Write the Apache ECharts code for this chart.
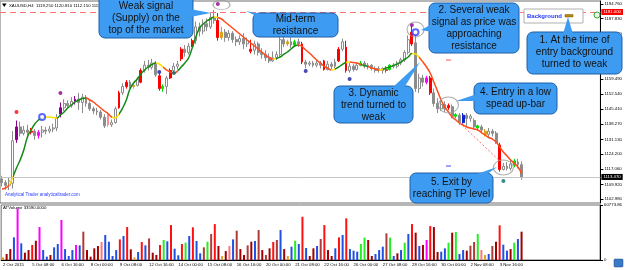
<!DOCTYPE html>
<html>
<head>
<meta charset="utf-8">
<script src="https://cdn.jsdelivr.net/npm/echarts@6/dist/echarts.min.js"></script>
<style>
  html, body { margin: 0; padding: 0; background: #fff; }
  #main { width: 625px; height: 270px; }
</style>
</head>
<body>
<div id="main"></div>
<script>
// XAUUSD H4, 2 Oct 2015 - 4 Nov 2015
const tickLabels = ['2 Oct 2015', '5 Oct 08:00', '6 Oct 16:00', '8 Oct 00:00', '9 Oct 08:00', '12 Oct 16:00',
  '14 Oct 00:00', '15 Oct 08:00', '16 Oct 16:00', '20 Oct 00:00', '21 Oct 08:00', '22 Oct 16:00',
  '26 Oct 00:00', '27 Oct 08:00', '28 Oct 16:00', '30 Oct 00:00', '2 Nov 08:00', '3 Nov 16:00'];

// [open, close, low, high]
const ohlc = [
  [1112.5,1110.8,1109.0,1114.0],[1110.8,1109.5,1107.5,1112.0],[1109.5,1111.5,1107.3,1113.0],[1110.5,1130.5,1108.0,1135.0],
  [1131.0,1137.0,1129.5,1140.0],[1137.0,1134.0,1132.5,1139.5],[1134.0,1135.5,1133.0,1137.5],[1135.5,1134.5,1133.0,1138.0],
  [1134.5,1135.0,1133.5,1136.5],[1135.0,1133.0,1131.0,1136.0],[1133.0,1134.5,1131.5,1135.5],[1134.5,1135.5,1132.0,1137.5],
  [1135.5,1135.0,1133.5,1137.0],[1135.0,1136.0,1134.0,1137.5],[1136.0,1136.5,1134.5,1138.5],[1136.5,1141.0,1135.0,1143.0],
  [1143.0,1146.0,1141.5,1148.5],[1146.0,1148.0,1144.5,1150.0],[1148.0,1147.0,1145.5,1149.5],[1147.0,1149.0,1146.0,1151.0],
  [1149.0,1150.0,1147.5,1151.5],[1150.0,1148.5,1145.0,1153.0],[1148.5,1151.0,1143.5,1152.5],[1151.0,1148.0,1146.5,1152.0],
  [1148.0,1145.5,1144.5,1149.0],[1145.5,1144.5,1143.0,1146.5],[1144.5,1144.0,1142.5,1146.0],[1144.0,1141.5,1140.5,1145.0],
  [1141.5,1137.5,1136.5,1143.0],[1143.0,1138.0,1137.0,1144.0],[1138.0,1139.0,1137.0,1140.5],[1139.0,1145.5,1138.5,1146.5],
  [1146.0,1153.0,1145.5,1154.0],[1153.0,1156.0,1152.0,1157.5],[1156.0,1158.0,1155.0,1159.0],[1158.0,1156.0,1155.0,1159.0],
  [1156.0,1156.5,1155.0,1157.5],[1156.5,1159.5,1156.0,1160.5],[1158.0,1163.5,1157.5,1164.5],[1163.5,1166.0,1162.5,1168.0],
  [1166.0,1165.0,1163.5,1168.5],[1165.0,1167.0,1164.0,1169.0],[1167.0,1161.5,1160.5,1168.0],[1161.0,1155.0,1154.0,1162.0],
  [1155.0,1156.0,1153.5,1157.0],[1156.0,1160.0,1152.5,1161.0],[1160.0,1163.5,1159.5,1164.5],[1163.5,1165.5,1162.5,1167.0],
  [1165.5,1166.5,1164.0,1168.0],[1169.0,1173.5,1168.0,1174.5],[1173.5,1172.0,1170.0,1175.5],[1172.0,1175.0,1171.0,1176.5],
  [1175.0,1177.5,1174.5,1178.5],[1177.5,1184.0,1176.0,1186.5],[1184.0,1182.0,1179.5,1186.0],[1182.0,1185.5,1180.5,1187.5],
  [1185.5,1184.0,1182.0,1188.0],[1184.0,1188.5,1183.0,1190.5],[1188.5,1187.0,1185.5,1192.0],[1187.0,1179.0,1177.5,1190.5],
  [1179.0,1181.5,1178.0,1184.0],[1181.5,1179.0,1177.0,1183.0],[1179.0,1181.0,1177.5,1182.5],[1181.0,1178.0,1176.5,1182.0],
  [1178.0,1177.0,1175.0,1179.5],[1177.0,1178.5,1175.5,1180.0],[1178.5,1176.0,1173.5,1181.0],[1176.0,1177.5,1174.5,1179.0],
  [1173.5,1172.5,1171.5,1178.0],[1173.0,1176.0,1171.0,1177.5],[1176.0,1172.0,1170.5,1177.0],[1172.0,1171.0,1169.0,1174.0],
  [1171.0,1169.5,1168.0,1173.0],[1169.5,1168.0,1167.0,1171.5],[1168.0,1169.5,1167.5,1172.5],[1169.5,1171.0,1168.5,1172.5],
  [1171.0,1178.0,1170.0,1180.0],[1178.0,1176.0,1174.5,1179.5],[1176.0,1177.0,1175.0,1178.0],[1177.0,1175.5,1174.0,1179.0],
  [1175.5,1177.0,1174.5,1178.0],[1177.0,1176.0,1174.5,1178.5],[1176.0,1167.5,1166.5,1177.0],[1167.5,1166.5,1164.5,1168.5],
  [1166.5,1167.0,1165.5,1168.0],[1167.0,1166.0,1165.0,1168.0],[1166.0,1167.0,1165.0,1168.5],[1167.0,1166.0,1164.5,1168.0],
  [1168.0,1164.0,1163.5,1168.5],[1164.0,1166.5,1163.5,1168.0],[1166.5,1165.5,1164.0,1167.5],[1165.5,1167.5,1164.5,1169.0],
  [1168.0,1173.5,1167.5,1174.5],[1173.5,1177.0,1172.5,1178.5],[1174.5,1163.5,1162.5,1177.5],[1163.5,1165.5,1162.5,1167.0],
  [1165.5,1164.0,1163.0,1166.5],[1164.0,1166.0,1163.5,1167.5],[1166.0,1167.0,1165.5,1168.0],[1167.0,1165.5,1164.5,1168.0],
  [1165.5,1166.0,1164.0,1167.0],[1166.0,1164.5,1163.5,1166.5],[1164.5,1163.5,1162.5,1165.5],[1163.5,1164.5,1162.5,1165.5],
  [1164.5,1163.5,1162.0,1165.0],[1163.5,1164.0,1162.5,1165.5],[1164.0,1166.0,1163.5,1166.5],[1166.0,1165.5,1164.5,1167.0],
  [1165.5,1167.0,1164.5,1168.0],[1167.0,1168.5,1166.0,1169.5],[1168.5,1172.0,1167.5,1173.0],[1172.0,1178.0,1171.0,1180.0],
  [1176.0,1181.5,1175.0,1184.5],[1176.5,1155.0,1153.5,1181.0],[1155.0,1160.0,1153.0,1162.0],[1160.0,1158.0,1156.0,1161.5],
  [1158.0,1160.0,1157.0,1161.0],[1160.0,1153.0,1152.0,1161.0],[1153.0,1148.0,1146.5,1155.0],[1148.0,1145.5,1143.5,1150.5],
  [1145.5,1147.5,1144.5,1149.5],[1147.5,1145.5,1144.0,1149.0],[1146.0,1147.0,1145.0,1148.0],[1146.5,1142.0,1141.0,1147.5],
  [1142.0,1142.8,1141.0,1143.5],[1142.5,1139.0,1138.0,1143.5],[1139.0,1142.5,1138.5,1143.5],[1142.5,1141.0,1137.5,1143.5],
  [1141.0,1142.0,1139.5,1143.0],[1140.0,1137.0,1136.0,1141.0],[1136.5,1137.5,1135.5,1138.0],[1137.0,1135.5,1134.0,1138.0],
  [1135.0,1133.5,1132.5,1136.0],[1133.5,1135.0,1132.0,1136.5],[1135.0,1134.0,1132.5,1136.0],[1134.0,1129.5,1129.0,1135.0],
  [1128.5,1117.0,1116.0,1129.5],[1117.0,1118.5,1116.5,1120.0],[1118.5,1117.5,1116.5,1120.5],[1117.5,1119.5,1116.5,1121.5],
  [1119.0,1121.0,1118.0,1122.0],[1120.5,1119.25,1117.5,1122.0],[1119.25,1113.47,1112.15,1120.81]
];

// indicator bar classes (coloured candles)
const markedBars = [4, 8, 10, 16, 20, 29, 32, 34, 36, 38, 43, 44, 46, 49, 52, 59, 60, 68, 78, 80, 82, 88, 92, 94,
  98, 105, 106, 112, 116, 117, 122, 124, 126, 130, 132, 136, 140];
const markedTypes = ['purple', 'red', 'magenta', 'purple', 'purple', 'pink', 'red', 'red', 'orange', 'red', 'red', 'green', 'red', 'red', 'red', 'red', 'orange', 'red', 'orange', 'green', 'red', 'red', 'red', 'red',
  'green', 'brown', 'green', 'red', 'magenta', 'red', 'red', 'green', 'blue', 'green', 'orange', 'red', 'green'];

// dynamic trend line
const trend = [
  1107.81,1108.28,1109.69,1113.45,1117.68,1121.44,1126.14,1132.25,1135.54,1138.36,1140.24,1141.18,1141.65,1141.65,1141.41,1141.18,
  1142.59,1144.00,1145.88,1147.29,1148.70,1149.64,1150.35,1150.58,1149.64,1148.70,1147.29,1145.88,1144.47,1143.29,1141.65,1141.18,
  1143.06,1145.88,1149.64,1154.81,1157.63,1159.51,1161.86,1163.74,1165.15,1166.33,1167.03,1166.56,1165.15,1163.74,1162.80,1162.33,
  1163.27,1165.15,1167.03,1169.38,1174.08,1179.25,1183.48,1185.36,1186.77,1187.71,1188.65,1188.41,1187.71,1186.30,1184.89,1183.48,
  1182.07,1180.66,1179.25,1177.84,1176.43,1175.02,1173.61,1172.20,1170.79,1169.61,1168.91,1169.14,1169.85,1171.03,1172.20,1173.61,
  1175.02,1175.49,1174.79,1173.14,1171.73,1170.09,1168.44,1167.03,1165.62,1164.68,1163.74,1164.21,1165.15,1166.33,1167.27,1167.50,
  1167.27,1167.03,1166.33,1165.86,1165.39,1164.68,1164.21,1163.74,1163.97,1164.68,1165.15,1165.86,1166.56,1167.50,1168.68,1169.85,
  1171.50,1171.26,1169.61,1167.50,1165.15,1162.33,1158.10,1153.87,1149.64,1146.35,1144.00,1141.65,1140.24,1138.83,1137.89,1136.95,
  1136.48,1136.01,1135.54,1134.36,1133.19,1132.01,1131.31,1129.90,1127.55,1125.20,1123.32,1121.44,1119.79,1118.15,1114.86
];
// [from bar, to bar, state] of the trend line colour
const trendStates = [
  [0, 1.5, 'down'], [1.5, 2.5, 'flat'], [2.5, 11, 'up'], [11, 14.5, 'flat'], [14.5, 23, 'up'], [23, 30, 'down'], [30, 31.5, 'flat'],
  [31.5, 42, 'up'], [42, 43.5, 'flat'], [43.5, 48, 'down'], [48, 57.5, 'up'], [57.5, 59, 'flat'], [59, 74, 'down'], [74, 75, 'flat'],
  [75, 81, 'up'], [81, 90, 'down'], [90, 91, 'flat'], [91, 94, 'up'], [94, 95, 'flat'], [95, 98, 'down'], [98, 100, 'up'],
  [100, 103, 'down'], [103, 104, 'flat'], [104, 112, 'up'], [112, 114, 'flat'], [114, 143, 'down']
];

// ATVolume
const volume = [
  2900,6600,12100,25000,57000,18400,8100,11000,16600,21300,36400,11000,3700,5500,14000,17700,
  44200,12100,4400,11000,16600,16200,31300,11000,3700,12900,15500,19900,27600,20200,4400,11000,
  22800,26500,36400,11800,2900,8800,19900,16200,23900,8100,5500,16600,22100,20600,38600,12500,
  5200,17700,19100,26500,36100,21000,7400,14000,20200,28700,39700,15500,4400,9900,15500,22800,
  32400,12100,5500,16200,20200,21000,33100,11000,5500,12900,19900,22100,33100,12100,4400,14700,
  21300,17700,47800,13200,4400,12900,15500,23200,38600,11000,4400,12900,25000,27600,46000,12100,
  10300,9200,17700,24700,22100,4400,6600,11000,14700,29400,24700,4400,7400,11000,19100,28700,
  39700,30200,15500,16600,22100,37500,36400,8800,9200,12900,19100,30200,30900,6600,11000,10300,
  15800,19900,28700,11000,5500,6600,15500,20200,38300,16900,10300,12100,19100,23200,31300
];
const volType = 'oddbmbddrdmbbdbbmbbbmbkddddpbbbbrbrdobrbkddrgbrbbrgbrbbkgkrdodpbkddkdbkdkdrkbdobgbrbddbkrddbrbrbbbggddbbbkgbdbgbrdbdmrddbbgdgbbdkkgpobkdrbbdgbd';

// signal dots above / below bars
const dotIdx = [4, 16, 43, 47, 59, 83, 95, 112, 137];
const dotPrice = [1144.0, 1152.9, 1162.8, 1162.3, 1194.8, 1163.3, 1159.5, 1184.9, 1111.6];
const dotKind = ['red', 'purple', 'blue', 'teal', 'purple', 'blue', 'blue', 'purple', 'teal'];
const ringIdx = [11, 113];
const ringPrice = [1141.6, 1181.5];

// hand drawn annotation circles and the entry-exit line
const circleIdx = [60, 113, 122, 137];
const circlePrice = [1194.3, 1182.8, 1147.3, 1117.9];
const tradeLine = [[121, 1145.5], [136, 1121.0]];
const levelMarks = [[122, 1168.4, 'pink'], [122, 1118.6, 'blue']];

const resistance = 1191.0;
const lastClose = 1113.47;
const yTicks = [1102.98, 1109.92, 1117.06, 1124.20, 1131.13, 1138.27, 1145.41, 1152.54, 1159.49, 1166.49, 1173.56, 1180.70, 1187.83, 1194.76];
const volMax = 60773.86;

// ---- styling
const candleColors = { red: '#ff0000', green: '#00e000', purple: '#8b008b', magenta: '#ff00ff', pink: '#ff8c8c', orange: '#d9a21b', blue: '#0a22d0', brown: '#a0522d' };
const volColors = { r: '#ff1010', d: '#a00000', k: '#b03a3a', b: '#2050e0', g: '#22ee22', m: '#ff00ff', o: '#e0a020', p: '#ff7878' };
const dotColors = { red: '#ff0000', purple: '#8b008b', blue: '#1a1aa0', teal: '#0b6b6b' };
const trendColors = { up: '#138a13', down: '#ff4a1a', flat: '#ffe000' };
const circleSizes = [[17, 9], [17, 15], [20, 16], [20, 15]];
const boxFill = '#3d9cf2', boxStroke = '#1e5ea6';
const tiny = 4.3;

const slots = 164;
const cats = [];
for (let i = 0; i < slots; i++) cats.push(i % 8 === 0 && i / 8 < tickLabels.length ? tickLabels[i / 8] : '');
const isTick = (idx) => cats[idx] !== '';

const candleData = ohlc.map((v, i) => {
  const k = markedBars.indexOf(i);
  if (k < 0) return v;
  const c = candleColors[markedTypes[k]];
  return { value: v, itemStyle: { color: c, color0: c, borderColor: c, borderColor0: c } };
});
const volData = volume.map((v, i) => ({ value: v, itemStyle: { color: volColors[volType[i]] } }));

function callout(x, y, w, h, tx, ty, text, tail) {
  return [
    { type: 'rect', z: 100, shape: { x: x, y: y, width: w, height: h, r: 6 }, style: { fill: boxFill, stroke: boxStroke, lineWidth: 1 } },
    { type: 'polygon', z: 101, shape: { points: tail }, style: { fill: boxFill, stroke: null } },
    { type: 'text', z: 102, x: tx, y: ty, style: { text: text, fill: '#111', font: '10px "Liberation Sans", Arial', align: 'center', verticalAlign: 'middle', lineHeight: 12 } }
  ];
}

const graphics = [].concat(
  callout(99, -6, 94, 44, 146, 18.5, 'Weak signal\n(Supply) on the\ntop of the market', [[190, 9], [190, 17], [211, 13]]),
  callout(253, 13, 85, 24, 295.5, 25.5, 'Mid-term\nresistance', [[258, 17], [266, 15], [246, 11]]),
  callout(334, 86, 79, 37, 373.5, 105, '3. Dynamic\ntrend turned to\nweak', [[392, 88], [404, 88], [420, 62]]),
  callout(474, 83, 83, 31, 515.5, 98.5, '4. Entry in a low\nspead up-bar', [[477, 94], [477, 101], [456, 101]]),
  callout(410, 173, 83, 30, 451.5, 188, '5. Exit by\nreaching TP level', [[474, 175], [486, 175], [497, 167]]),
  callout(429, 3, 90, 50, 474, 28, '2. Several weak\nsignal as price was\napproaching\nresistance', [[432, 24], [432, 32], [421, 30]]),
  callout(527, 32, 95, 42, 574.5, 52, '1. At the time of\nentry background\nturned to weak', [[563, 34], [573, 34], [568, 17]]),
  [
    { type: 'rect', z: 90, shape: { x: 524, y: 9, width: 59, height: 14 }, style: { fill: '#fff', stroke: '#b0b0b0', lineWidth: 1 } },
    { type: 'text', z: 91, x: 527, y: 16, style: { text: 'Background', fill: '#2238ff', font: 'bold 6px "Liberation Sans", Arial', verticalAlign: 'middle' } },
    { type: 'rect', z: 91, shape: { x: 565, y: 14.5, width: 8, height: 2.5 }, style: { fill: '#b8860b', stroke: '#7a5a08', lineWidth: 0.5 } },
    { type: 'circle', z: 91, shape: { cx: 597, cy: 15, r: 3 }, style: { fill: '#e8f8e8', stroke: '#33aa33', lineWidth: 1 } },
    { type: 'polygon', z: 91, shape: { points: [[2, 3.5], [6.5, 3.5], [4.25, 7]] }, style: { fill: '#000' } },
    { type: 'text', z: 91, x: 9, y: 5.5, style: { text: 'XAUUSD,H4  1119.250 1120.810 1112.150 1113.470', fill: '#000', font: tiny + 'px "Liberation Sans", Arial', verticalAlign: 'middle' } },
    { type: 'text', z: 91, x: 5, y: 195, style: { text: 'Analytical Trader analyticaltrader.com', fill: '#2a3cff', font: '4.5px "Liberation Sans", Arial', verticalAlign: 'middle' } },
    { type: 'text', z: 91, x: 3, y: 208, style: { text: 'ATVolume 33590.0000', fill: '#000', font: tiny + 'px "Liberation Sans", Arial', verticalAlign: 'middle' } },
    { type: 'rect', z: 91, shape: { x: 614, y: 259, width: 9, height: 8, r: 1 }, style: { fill: '#3a78c8', stroke: '#204a80', lineWidth: 0.5 } }
  ]
);

const chart = echarts.init(document.getElementById('main'), null, { renderer: 'canvas' });
chart.setOption({
  animation: false,
  backgroundColor: '#fff',
  grid: [
    { left: 0, right: 23, top: 1, height: 202, show: true, borderColor: '#6e6e6e', borderWidth: 1 },
    { left: 0, right: 23, top: 205, height: 55, show: true, borderColor: '#6e6e6e', borderWidth: 1 }
  ],
  xAxis: [
    { type: 'category', gridIndex: 0, data: cats, boundaryGap: true, axisLine: { show: false }, axisTick: { show: false }, axisLabel: { show: false } },
    {
      type: 'category', gridIndex: 1, data: cats, boundaryGap: true,
      axisLine: { lineStyle: { color: '#000', width: 1 } },
      axisTick: { interval: isTick, alignWithLabel: true, length: 3, lineStyle: { color: '#000' } },
      axisLabel: { interval: isTick, align: 'left', fontSize: tiny, color: '#000', margin: 3, fontFamily: 'Liberation Sans' }
    }
  ],
  yAxis: [
    {
      type: 'value', gridIndex: 0, position: 'right', min: 1101.23, max: 1196.17, scale: true,
      splitLine: { show: false },
      axisLine: { show: true, lineStyle: { color: '#000' } },
      axisTick: { show: true, length: 3, customValues: yTicks, lineStyle: { color: '#000' } },
      axisLabel: { customValues: yTicks, fontSize: tiny, color: '#000', margin: 4, fontFamily: 'Liberation Sans', formatter: v => v.toFixed(3) }
    },
    {
      type: 'value', gridIndex: 1, position: 'right', min: 0, max: volMax,
      splitLine: { show: false },
      axisLine: { show: true, lineStyle: { color: '#000' } },
      axisTick: { show: true, length: 3, customValues: [0, volMax], lineStyle: { color: '#000' } },
      axisLabel: { customValues: [0, volMax], fontSize: tiny, color: '#000', margin: 4, fontFamily: 'Liberation Sans', formatter: v => v === 0 ? '0' : volMax.toFixed(2) }
    }
  ],
  visualMap: {
    show: false, seriesIndex: 1, dimension: 0,
    pieces: trendStates.map((s, k) => Object.assign(k === 0 ? { gte: s[0] } : { gt: s[0] }, { lte: s[1], color: trendColors[s[2]] }))
  },
  series: [
    {
      type: 'candlestick', xAxisIndex: 0, yAxisIndex: 0, data: candleData, barWidth: 2.4,
      itemStyle: { color: '#ffffff', color0: '#8c8c8c', borderColor: '#8c8c8c', borderColor0: '#8c8c8c', borderWidth: 1 },
      markLine: {
        silent: true, symbol: ['none', 'none'],
        data: [
          { yAxis: resistance, lineStyle: { color: '#ff7070', type: [6, 4], width: 1 },
            label: { position: 'end', distance: 1, formatter: resistance.toFixed(3), color: '#fff', backgroundColor: '#ff0000', fontSize: tiny, padding: [1, 2] } },
          { yAxis: lastClose, lineStyle: { color: '#c4c4c4', type: 'solid', width: 1 },
            label: { position: 'end', distance: 1, formatter: lastClose.toFixed(3), color: '#fff', backgroundColor: '#000', fontSize: tiny, padding: [1, 2] } }
        ]
      },
      z: 2
    },
    { type: 'line', xAxisIndex: 0, yAxisIndex: 0, data: trend, smooth: true, symbol: 'none', lineStyle: { width: 1.5 }, z: 3 },
    { type: 'bar', xAxisIndex: 1, yAxisIndex: 1, data: volData, barWidth: 2 },
    {
      type: 'scatter', xAxisIndex: 0, yAxisIndex: 0, symbolSize: 4, z: 4,
      data: dotIdx.map((d, k) => ({ value: [d, dotPrice[k]], itemStyle: { color: dotColors[dotKind[k]] } }))
    },
    {
      type: 'scatter', xAxisIndex: 0, yAxisIndex: 0, symbol: 'emptyCircle', symbolSize: 6, z: 4,
      itemStyle: { color: '#3344ff', borderColor: '#3344ff', borderWidth: 1 },
      data: ringIdx.map((d, k) => [d, ringPrice[k]])
    },
    {
      type: 'scatter', xAxisIndex: 0, yAxisIndex: 0, symbol: 'circle', z: 5,
      itemStyle: { color: 'rgba(0,0,0,0)', borderColor: '#9a9a9a', borderWidth: 1 },
      data: circleIdx.map((d, k) => ({ value: [d, circlePrice[k]], symbolSize: circleSizes[k] }))
    },
    {
      type: 'line', xAxisIndex: 0, yAxisIndex: 0, data: tradeLine, symbol: 'none', z: 4,
      lineStyle: { color: '#ff7070', width: 1, type: [2, 2] }
    },
    {
      type: 'scatter', xAxisIndex: 0, yAxisIndex: 0, symbol: 'rect', symbolSize: [5, 1.5], z: 4,
      data: levelMarks.map(m => ({ value: [m[0], m[1]], itemStyle: { color: m[2] === 'pink' ? '#ff7070' : '#6060ff' } }))
    }
  ],
  graphic: graphics
});
</script>
</body>
</html>
